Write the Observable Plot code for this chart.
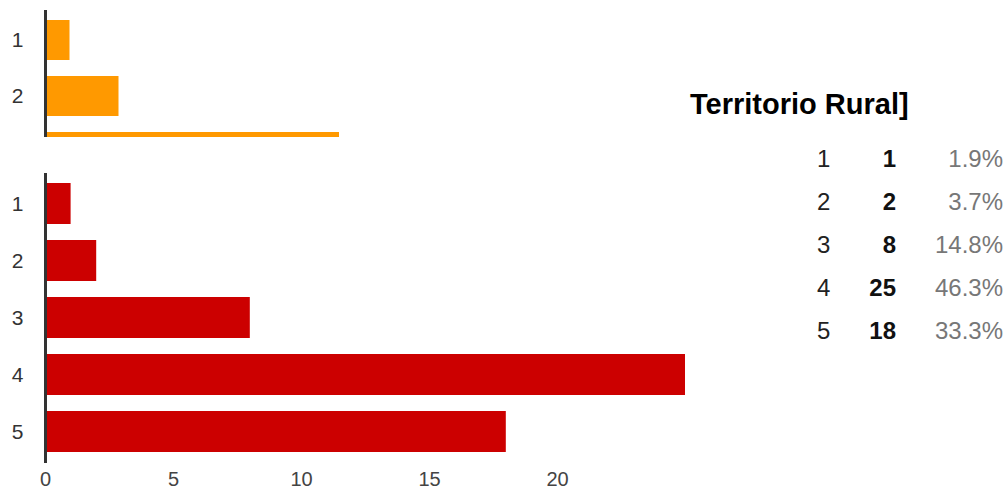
<!DOCTYPE html>
<html>
<head>
<meta charset="utf-8">
<script src="https://cdn.jsdelivr.net/npm/d3@7"></script>
<script src="https://cdn.jsdelivr.net/npm/@observablehq/plot@0.6"></script>
<style>
  body { margin: 0; background: #fff; font-family: Arial, "Liberation Sans", sans-serif; }
  #wrap { position: relative; width: 1006px; height: 491px; overflow: hidden; }
  #orange { position: absolute; left: 0; top: 0; width: 700px; height: 137px; overflow: hidden; }
  #red { position: absolute; left: 0; top: 170px; }
  #title { position: absolute; left: 690px; top: 90px; font-size: 29px; line-height: 29px; font-weight: bold; color: #000; white-space: nowrap; }
  #table { position: absolute; left: 800px; top: 137px; width: 204px; }
  .row { position: relative; height: 43px; line-height: 43px; font-size: 24px; }
  .row .lab { position: absolute; left: 17px; color: #222; }
  .row .cnt { position: absolute; right: 108px; font-weight: bold; color: #111; }
  .row .pct { position: absolute; right: 1px; color: #777; }
</style>
</head>
<body>
<div id="wrap">
  <div id="orange"></div>
  <div id="red"></div>
  <div id="title"></div>
  <div id="table"></div>
</div>
<script>
// Previous question (partially visible, orange)
const prevLabels = ["1", "2", "3"];
const prevValues = [1, 3, 12];
const prevTicks = ["1", "2"];

// Current question: Territorio Rural
const title = "Territorio Rural]";
const labels = ["1", "2", "3", "4", "5"];
const counts = [1, 2, 8, 25, 18];
const xTicks = [0, 5, 10, 15, 20];

const total = d3.sum(counts);
const prevData = prevLabels.map((l, i) => ({label: l, value: prevValues[i]}));
const data = labels.map((l, i) => ({label: l, value: counts[i], pct: (100 * counts[i] / total).toFixed(1) + "%"}));

const font = "Arial, 'Liberation Sans', sans-serif";

const orange = Plot.plot({
  width: 700,
  height: 183,
  marginTop: 10,
  marginBottom: 0,
  marginLeft: 45,
  marginRight: 18,
  style: {fontFamily: font, fontSize: "21px", color: "#333", background: "transparent"},
  x: {domain: [0, 26], axis: null},
  y: {domain: prevLabels, paddingInner: 0.28, paddingOuter: 0.18, label: null},
  marks: [
    Plot.barX(prevData, {x: "value", y: "label", fill: "#ff9900"}),
    Plot.ruleX([0], {stroke: "#333", strokeWidth: 3}),
    Plot.axisY({ticks: prevTicks, tickSize: 0, tickPadding: 22, fontSize: 21, label: null})
  ]
});
document.getElementById("orange").appendChild(orange);

const red = Plot.plot({
  width: 700,
  height: 321,
  marginTop: 3,
  marginBottom: 28,
  marginLeft: 45,
  marginRight: 15,
  style: {fontFamily: font, fontSize: "21px", color: "#333", background: "transparent", overflow: "visible"},
  x: {domain: [0, 25], label: null},
  y: {domain: labels, paddingInner: 0.28, paddingOuter: 0.18, label: null},
  marks: [
    Plot.barX(data, {x: "value", y: "label", fill: "#cc0000"}),
    Plot.ruleX([0], {stroke: "#333", strokeWidth: 3}),
    Plot.axisY({tickSize: 0, tickPadding: 22, fontSize: 21, label: null}),
    Plot.axisX({ticks: xTicks, tickSize: 0, tickPadding: 8, fontSize: 20, label: null, fill: "#444"})
  ]
});
document.getElementById("red").appendChild(red);

document.getElementById("title").textContent = title;
const table = d3.select("#table");
const rows = table.selectAll(".row").data(data).join("div").attr("class", "row");
rows.append("span").attr("class", "lab").text(d => d.label);
rows.append("span").attr("class", "cnt").text(d => d.value);
rows.append("span").attr("class", "pct").text(d => d.pct);
</script>
</body>
</html>
